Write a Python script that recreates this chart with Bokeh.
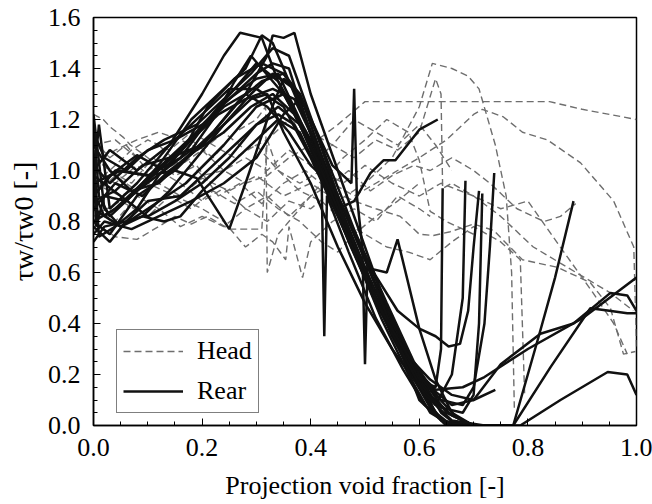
from bokeh.plotting import figure
from bokeh.models import Range1d, SingleIntervalTicker, PrintfTickFormatter, Legend, LegendItem
from bokeh.embed import file_html
from bokeh.resources import INLINE

# ---------------- data ----------------
rear_x = [
    [0, 0.01, 0.03, 0.08, 0.14, 0.20, 0.24, 0.27, 0.31, 0.34, 0.40, 0.46, 0.52, 0.57, 0.62, 0.65, 0.72],
    [0, 0.005, 0.02, 0.06, 0.12, 0.18, 0.22, 0.28, 0.31, 0.33, 0.36, 0.42, 0.48, 0.54, 0.60, 0.64, 0.67],
    [0, 0.03, 0.08, 0.15, 0.22, 0.28, 0.32, 0.33, 0.35, 0.37, 0.40, 0.45, 0.50, 0.55, 0.60, 0.63, 0.66],
    [0, 0.04, 0.10, 0.16, 0.23, 0.30, 0.34, 0.38, 0.43, 0.48, 0.53, 0.58, 0.63, 0.68, 0.72, 0.80, 0.90, 1.0],
    [0, 0.05, 0.10, 0.17, 0.24, 0.30, 0.35, 0.39, 0.44, 0.50, 0.55, 0.60, 0.64, 0.70, 0.76],
    [0, 0.03, 0.08, 0.14, 0.20, 0.25, 0.30, 0.35, 0.40, 0.45, 0.50, 0.56, 0.62, 0.66, 0.70, 0.75, 0.823, 0.884, 0.952, 0.983, 1.0],
    [0, 0.02, 0.07, 0.12, 0.18, 0.24, 0.30, 0.35, 0.38, 0.42, 0.47, 0.52, 0.57, 0.62, 0.66, 0.70],
    [0, 0.05, 0.10, 0.15, 0.19, 0.25, 0.28, 0.32, 0.35, 0.38, 0.43, 0.48, 0.53, 0.58, 0.62, 0.65],
    [0, 0.02, 0.06, 0.10, 0.15, 0.20, 0.26, 0.30, 0.33, 0.36, 0.39, 0.44, 0.49, 0.54, 0.59, 0.63, 0.66, 0.68, 0.685],
    [0, 0.02, 0.06, 0.10, 0.16, 0.20, 0.26, 0.30, 0.34, 0.37, 0.42, 0.47, 0.52, 0.57, 0.61, 0.64, 0.68, 0.70, 0.72, 0.73, 0.738],
    [0, 0.04, 0.09, 0.14, 0.20, 0.25, 0.29, 0.32, 0.35, 0.40, 0.45, 0.50, 0.55, 0.60, 0.64, 0.68, 0.70, 0.71, 0.716],
    [0, 0.01, 0.03, 0.08, 0.13, 0.18, 0.22, 0.26, 0.29, 0.31, 0.35, 0.40, 0.45, 0.50, 0.55, 0.60, 0.63, 0.64, 0.643],
    [0, 0.04, 0.09, 0.14, 0.19, 0.24, 0.28, 0.32, 0.36, 0.40, 0.42, 0.425, 0.43, 0.47, 0.52, 0.57, 0.61, 0.65, 0.70],
    [0, 0.03, 0.07, 0.12, 0.17, 0.22, 0.27, 0.31, 0.35, 0.39, 0.44, 0.475, 0.48, 0.485, 0.495, 0.50, 0.505, 0.55, 0.60, 0.65, 0.70, 0.773, 0.842, 0.915, 0.95, 0.983, 1.0],
    [0, 0.02, 0.06, 0.11, 0.16, 0.21, 0.26, 0.30, 0.34, 0.38, 0.43, 0.48, 0.53, 0.58, 0.62, 0.66, 0.786, 0.86, 0.947, 0.983, 1.0],
    [0, 0.03, 0.08, 0.13, 0.19, 0.24, 0.29, 0.33, 0.36, 0.41, 0.46, 0.51, 0.56, 0.60, 0.65, 0.773, 0.82, 0.85, 0.884],
    [0, 0.05, 0.10, 0.15, 0.20, 0.25, 0.30, 0.34, 0.38, 0.42, 0.45, 0.48, 0.51, 0.534, 0.556, 0.60, 0.634],
    [0, 0.04, 0.09, 0.14, 0.19, 0.24, 0.29, 0.33, 0.37, 0.41, 0.45, 0.50, 0.54, 0.56, 0.60, 0.63, 0.66, 0.70],
    [0, 0.03, 0.08, 0.13, 0.18, 0.23, 0.28, 0.33, 0.37, 0.41, 0.46, 0.51, 0.56, 0.60, 0.63, 0.654, 0.675, 0.69, 0.70, 0.71],
    [0, 0.02, 0.05, 0.09, 0.14, 0.19, 0.24, 0.29, 0.33, 0.37, 0.41, 0.46, 0.51, 0.56, 0.61, 0.66, 0.72],
    [0, 0.03, 0.06, 0.09, 0.13, 0.16, 0.20, 0.25, 0.30, 0.34, 0.38, 0.43, 0.48, 0.53, 0.58, 0.62, 0.66, 0.70, 0.74],
    [0, 0.01, 0.04, 0.08, 0.12, 0.17, 0.21, 0.26, 0.31, 0.35, 0.38, 0.41, 0.45, 0.49, 0.54, 0.59, 0.63, 0.67, 0.70],
]
rear_y = [
    [0.95, 1.18, 0.85, 0.95, 1.10, 1.30, 1.45, 1.54, 1.52, 1.35, 1.12, 0.85, 0.55, 0.30, 0.08, 0.0, 0.0],
    [1.05, 0.78, 0.90, 0.88, 1.02, 1.20, 1.28, 1.40, 1.53, 1.50, 1.35, 1.05, 0.75, 0.45, 0.20, 0.05, 0.0],
    [0.80, 0.75, 0.90, 1.00, 1.15, 1.30, 1.45, 1.53, 1.52, 1.54, 1.30, 1.00, 0.70, 0.40, 0.18, 0.05, 0.0],
    [0.90, 1.00, 0.98, 1.05, 1.25, 1.36, 1.38, 1.20, 0.95, 0.70, 0.45, 0.25, 0.14, 0.15, 0.19, 0.30, 0.42, 0.58],
    [0.85, 0.78, 0.85, 0.95, 1.10, 1.25, 1.30, 1.15, 0.90, 0.60, 0.35, 0.15, 0.02, 0.0, 0.0],
    [1.00, 1.08, 1.00, 1.10, 1.22, 1.32, 1.32, 1.25, 1.05, 0.82, 0.58, 0.33, 0.15, 0.08, 0.10, 0.24, 0.36, 0.40, 0.52, 0.51, 0.45],
    [0.75, 0.80, 0.77, 0.82, 0.88, 0.95, 1.05, 1.22, 1.28, 1.00, 0.72, 0.48, 0.28, 0.12, 0.04, 0.0],
    [0.95, 1.00, 0.98, 1.00, 0.97, 0.77, 0.95, 1.20, 1.36, 1.30, 1.00, 0.70, 0.45, 0.22, 0.07, 0.0],
    [1.15, 1.05, 1.00, 1.08, 1.12, 1.18, 1.30, 1.38, 1.42, 1.40, 1.20, 0.92, 0.65, 0.40, 0.20, 0.08, 0.20, 0.50, 0.96],
    [0.72, 0.78, 0.80, 0.88, 0.90, 0.98, 1.10, 1.18, 1.22, 1.18, 0.98, 0.75, 0.50, 0.30, 0.17, 0.10, 0.08, 0.15, 0.40, 0.70, 0.99],
    [0.88, 0.92, 1.02, 1.05, 1.10, 1.20, 1.28, 1.30, 1.15, 0.95, 0.70, 0.48, 0.30, 0.15, 0.07, 0.05, 0.12, 0.40, 0.91],
    [1.20, 0.90, 0.82, 0.92, 1.00, 1.08, 1.20, 1.35, 1.45, 1.40, 1.30, 1.10, 0.88, 0.62, 0.38, 0.18, 0.15, 0.30, 0.93],
    [0.80, 0.85, 0.95, 1.05, 1.15, 1.25, 1.30, 1.25, 1.15, 1.02, 0.98, 0.35, 0.90, 0.68, 0.42, 0.22, 0.08, 0.01, 0.0],
    [1.10, 1.00, 0.92, 0.95, 1.05, 1.15, 1.28, 1.35, 1.38, 1.25, 1.02, 0.95, 1.32, 0.90, 0.70, 0.24, 0.65, 0.42, 0.20, 0.05, 0.0, 0.0, 0.23, 0.46, 0.45, 0.44, 0.44],
    [0.92, 0.82, 0.88, 0.98, 1.08, 1.20, 1.32, 1.42, 1.35, 1.18, 0.95, 0.68, 0.42, 0.20, 0.05, 0.0, 0.0, 0.10, 0.21, 0.20, 0.12],
    [1.02, 0.95, 1.05, 1.12, 1.18, 1.28, 1.38, 1.48, 1.45, 1.15, 0.88, 0.60, 0.32, 0.10, 0.0, 0.0, 0.35, 0.58, 0.88],
    [0.98, 0.90, 0.82, 0.88, 0.95, 1.05, 1.18, 1.25, 1.18, 0.98, 0.85, 0.88, 0.99, 1.04, 1.04, 1.16, 1.20],
    [0.85, 0.95, 0.90, 1.00, 1.08, 1.15, 1.25, 1.30, 1.22, 1.05, 0.85, 0.62, 0.60, 0.73, 0.38, 0.18, 0.05, 0.0],
    [0.90, 0.98, 1.06, 1.00, 1.12, 1.22, 1.28, 1.32, 1.28, 1.10, 0.85, 0.62, 0.45, 0.38, 0.35, 0.31, 0.32, 0.45, 0.70, 0.92],
    [1.22, 0.85, 0.78, 0.82, 0.92, 1.05, 1.18, 1.30, 1.38, 1.32, 1.10, 0.82, 0.55, 0.32, 0.12, 0.02, 0.0],
    [0.78, 0.72, 0.80, 0.82, 0.80, 0.82, 0.92, 1.02, 1.12, 1.20, 1.15, 0.92, 0.68, 0.45, 0.27, 0.18, 0.12, 0.10, 0.14],
    [1.08, 0.74, 0.78, 0.85, 0.98, 1.10, 1.25, 1.36, 1.42, 1.38, 1.30, 1.15, 0.90, 0.72, 0.48, 0.25, 0.12, 0.03, 0.0],
]

head_x = [
    [0, 0.018, 0.031, 0.055, 0.068, 0.10, 0.13, 0.17, 0.20, 0.24, 0.28, 0.32, 0.36, 0.40, 0.45, 0.50, 0.60, 0.70, 0.84, 0.90, 1.0],
    [0, 0.04, 0.08, 0.12, 0.16, 0.20, 0.25, 0.30, 0.35, 0.40, 0.45, 0.50, 0.55, 0.60, 0.624, 0.66, 0.69, 0.71, 0.74, 0.76, 0.77, 0.775],
    [0, 0.04, 0.08, 0.12, 0.16, 0.20, 0.24, 0.28, 0.32, 0.36, 0.40, 0.44, 0.48, 0.52, 0.56, 0.60, 0.65, 0.70, 0.716, 0.755, 0.79, 0.836, 0.897, 0.958, 0.995, 1.0],
    [0, 0.03, 0.07, 0.11, 0.15, 0.19, 0.23, 0.27, 0.31, 0.35, 0.39, 0.43, 0.47, 0.51, 0.55, 0.59, 0.62, 0.66, 0.70, 0.73, 0.78, 0.83, 0.86, 0.888],
    [0, 0.04, 0.08, 0.12, 0.16, 0.20, 0.24, 0.28, 0.32, 0.36, 0.40, 0.44, 0.48, 0.52, 0.565, 0.60, 0.626, 0.657, 0.70, 0.737, 0.79, 0.855, 0.915, 0.952, 0.976, 0.998],
    [0, 0.04, 0.08, 0.12, 0.15, 0.18, 0.21, 0.25, 0.31, 0.32, 0.34, 0.38, 0.42, 0.46, 0.50, 0.55, 0.60, 0.64, 0.70, 0.75, 0.80, 0.873, 0.92, 0.958, 0.983],
    [0, 0.05, 0.10, 0.15, 0.20, 0.24, 0.28, 0.31, 0.33, 0.354, 0.36, 0.385, 0.40, 0.44, 0.48, 0.52, 0.56, 0.60, 0.62],
    [0, 0.04, 0.08, 0.12, 0.16, 0.20, 0.24, 0.28, 0.32, 0.36, 0.40, 0.44, 0.48, 0.52, 0.56, 0.60, 0.63, 0.64, 0.643, 0.66, 0.70, 0.75, 0.81, 0.873, 0.952, 0.994],
    [0, 0.03, 0.07, 0.10, 0.14, 0.18, 0.22, 0.26, 0.30, 0.34, 0.38, 0.42, 0.46, 0.50, 0.54, 0.58, 0.62, 0.66, 0.70, 0.75, 0.786, 0.794],
    [0, 0.04, 0.08, 0.12, 0.16, 0.20, 0.24, 0.28, 0.32, 0.36, 0.40, 0.44, 0.48, 0.52, 0.56, 0.60, 0.63, 0.66],
    [0, 0.05, 0.10, 0.14, 0.18, 0.22, 0.26, 0.30, 0.34, 0.38, 0.42, 0.45, 0.48, 0.52, 0.56, 0.60],
    [0, 0.03, 0.06, 0.10, 0.14, 0.18, 0.22, 0.26, 0.30, 0.317, 0.32, 0.34, 0.38, 0.42, 0.46, 0.50, 0.54, 0.58, 0.60, 0.62, 0.65, 0.70],
]
head_y = [
    [1.22, 1.20, 1.17, 1.13, 1.10, 1.05, 1.00, 1.05, 0.98, 1.00, 0.95, 0.98, 1.05, 1.10, 1.18, 1.27, 1.27, 1.27, 1.27, 1.24, 1.20],
    [1.00, 0.95, 1.02, 0.95, 0.90, 0.97, 0.92, 0.98, 0.90, 0.95, 0.88, 0.95, 1.05, 1.25, 1.42, 1.40, 1.37, 1.32, 1.10, 0.90, 0.60, 0.07],
    [0.90, 0.98, 0.92, 1.00, 0.95, 0.88, 0.93, 0.85, 0.90, 0.82, 0.90, 0.95, 0.90, 0.95, 1.00, 1.05, 1.12, 1.22, 1.24, 1.21, 1.15, 1.12, 1.03, 0.88, 0.70, 0.31],
    [1.05, 1.00, 0.95, 1.05, 0.98, 1.02, 0.90, 0.95, 0.87, 0.95, 1.00, 0.93, 1.00, 0.92, 0.98, 1.02, 1.00, 1.05, 1.00, 0.95, 0.85, 0.80, 0.82, 0.87],
    [0.85, 0.80, 0.90, 0.85, 0.78, 0.82, 0.78, 0.85, 0.80, 0.88, 0.85, 0.92, 0.88, 0.85, 0.82, 0.75, 0.745, 0.76, 0.79, 0.765, 0.65, 0.62, 0.56, 0.46, 0.28, 0.29],
    [0.80, 0.74, 0.73, 0.78, 0.82, 0.79, 0.82, 0.77, 0.77, 1.12, 1.00, 0.95, 1.00, 0.95, 1.02, 0.95, 0.90, 0.95, 0.90, 0.85, 0.88, 0.66, 0.52, 0.40, 0.28],
    [0.95, 0.90, 0.95, 0.90, 0.85, 0.80, 0.70, 0.75, 0.72, 0.65, 0.78, 0.58, 0.72, 0.80, 0.85, 0.80, 0.90, 0.85, 0.82],
    [1.10, 1.12, 1.05, 1.10, 1.02, 1.08, 1.00, 1.05, 1.00, 1.08, 1.02, 1.10, 1.05, 1.12, 1.08, 1.15, 1.36, 1.30, 0.93, 0.95, 0.90, 0.82, 0.70, 0.62, 0.52, 0.45],
    [0.95, 1.00, 1.08, 1.12, 1.08, 1.15, 1.10, 1.05, 1.10, 1.00, 0.92, 0.88, 0.80, 0.75, 0.70, 0.68, 0.65, 0.72, 0.78, 0.72, 0.65, 0.12],
    [1.02, 1.08, 1.12, 1.15, 1.12, 1.08, 1.15, 1.08, 1.12, 1.20, 1.15, 1.10, 1.20, 1.15, 1.10, 1.18, 1.10, 1.00],
    [0.82, 0.88, 0.82, 0.90, 0.85, 0.92, 0.87, 0.92, 0.85, 0.80, 0.72, 0.68, 0.75, 0.82, 0.88, 0.95],
    [1.12, 1.05, 1.10, 1.00, 1.05, 1.12, 1.05, 1.15, 1.20, 1.25, 0.60, 0.75, 0.85, 0.95, 1.05, 1.12, 1.20, 1.15, 1.04, 0.84, 0.80, 0.75],
]

series_labels = ["Head", "Rear"]
x_label = "Projection void fraction [-]"
y_label = "\u03c4w/\u03c4w0 [-]"

# ---------------- figure ----------------
FONT = "Liberation Serif"
p = figure(width=652, height=504, x_range=Range1d(0, 1), y_range=Range1d(0, 1.6),
           output_backend="svg", toolbar_location=None,
           min_border_left=93, min_border_right=16, min_border_top=17, min_border_bottom=79)
p.background_fill_color = "white"
p.border_fill_color = "white"
p.outline_line_color = "black"
p.outline_line_width = 1.5
p.xgrid.visible = False
p.ygrid.visible = False

head_r = p.multi_line(head_x, head_y, line_color="#6e6e6e", line_width=1.4, line_dash="7 4")
rear_r = p.multi_line(rear_x, rear_y, line_color="#111111", line_width=2.5)

p.xaxis.ticker = SingleIntervalTicker(interval=0.2, num_minor_ticks=4)
p.yaxis.ticker = SingleIntervalTicker(interval=0.2, num_minor_ticks=4)
p.xaxis.formatter = PrintfTickFormatter(format="%.1f")
p.yaxis.formatter = PrintfTickFormatter(format="%.1f")
p.xaxis.axis_label = x_label
p.yaxis.axis_label = y_label
for axes in (p.xaxis, p.yaxis):
    axes.axis_label_text_font = FONT
    axes.axis_label_text_font_style = "normal"
    axes.axis_label_text_font_size = "26px"
    axes.axis_label_text_color = "black"
    axes.major_label_text_font = FONT
    axes.major_label_text_font_size = "26px"
    axes.major_label_text_color = "black"
    axes.axis_line_color = "black"
    axes.axis_line_width = 1.5
    axes.major_tick_in = 7
    axes.major_tick_out = 0
    axes.minor_tick_in = 4
    axes.minor_tick_out = 0
    axes.major_tick_line_color = "black"
    axes.minor_tick_line_color = "black"
p.xaxis.major_label_standoff = 13
p.xaxis.axis_label_standoff = 12
p.yaxis.major_label_standoff = 13
p.yaxis.axis_label_standoff = 6
p.yaxis.axis_label_text_font_size = "28px"

legend = Legend(items=[LegendItem(label=series_labels[0], renderers=[head_r]),
                       LegendItem(label=series_labels[1], renderers=[rear_r])],
                location=(23, 12), label_text_font=FONT, label_text_font_size="26px")
legend.label_text_color = "black"
legend.border_line_color = "black"
legend.border_line_width = 1
legend.background_fill_color = "white"
legend.background_fill_alpha = 1.0
legend.padding = 6
legend.spacing = 10
legend.glyph_width = 60
legend.glyph_height = 28
legend.label_height = 28
legend.label_standoff = 14
legend.margin = 0
p.add_layout(legend)

open("out.html", "w").write(file_html(p, INLINE))
